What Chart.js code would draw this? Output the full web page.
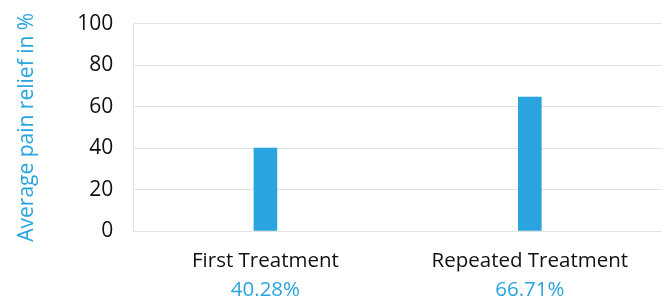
<!DOCTYPE html>
<html>
<head>
<meta charset="utf-8">
<script src="https://cdn.jsdelivr.net/npm/chart.js@4"></script>
<style>
  html, body { margin: 0; padding: 0; background: #fff; }
  #wrap { width: 671px; height: 300px; }
</style>
</head>
<body>
<div id="wrap"><canvas id="myChart"></canvas></div>
<script>
  const categories = ["First Treatment", "Repeated Treatment"];
  const percentLabels = ["40.28%", "66.71%"];
  const values = [40, 64.6];
  const yTicks = [0, 20, 40, 60, 80, 100];

  const blue = '#29a4de';
  const font = "'Open Sans', sans-serif";

  const data = {
    labels: categories,
    datasets: [{
      label: "Average pain relief",
      data: values,
      backgroundColor: blue,
      borderWidth: 0,
      barThickness: 23
    }]
  };

  // tick marks are kept invisible, their length only spaces the labels
  const config = {
    type: 'bar',
    data: data,
    options: {
      responsive: true,
      maintainAspectRatio: false,
      animation: false,
      layout: { padding: { top: 0, right: 9, left: 14, bottom: 0 } },
      plugins: {
        legend: { display: false },
        tooltip: { enabled: false }
      },
      scales: {
        y: {
          min: 0,
          max: 100,
          afterBuildTicks: axis => { axis.ticks = yTicks.map(v => ({ value: v })); },
          grid: {
            color: '#e2e2e2',
            lineWidth: 1,
            tickLength: 9,
            tickColor: 'rgba(0,0,0,0)'
          },
          border: { color: '#e2e2e2' },
          ticks: {
            color: '#111',
            padding: 11,
            font: { family: font, size: 21 }
          },
          title: {
            display: true,
            text: 'Average pain relief in %',
            color: blue,
            padding: { top: 0, bottom: 27 },
            font: { family: font, size: 21 }
          }
        },
        x: {
          grid: { display: false, tickLength: 20 },
          border: { display: false },
          ticks: {
            color: '#111',
            padding: 0,
            font: { family: font, size: 20.5, lineHeight: 1 }
          }
        },
        x2: {
          type: 'category',
          position: 'bottom',
          labels: percentLabels,
          grid: { display: false, tickLength: 8 },
          border: { display: false },
          ticks: {
            color: blue,
            padding: 0,
            font: { family: font, size: 20.5, lineHeight: 1 }
          }
        }
      }
    }
  };

  const myChart = new Chart(
    document.getElementById('myChart'),
    config
  );
</script>
</body>
</html>
